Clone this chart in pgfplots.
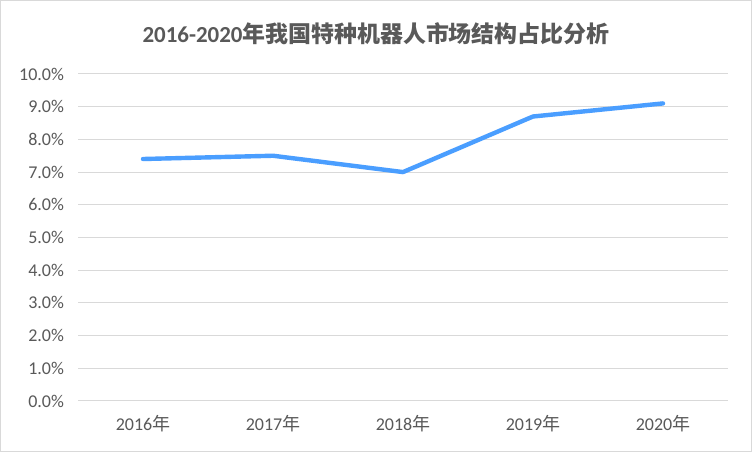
\documentclass[border=0pt]{standalone}
\usepackage{pgfplots}
\pgfplotsset{compat=1.18}
\usepackage{fontspec}
\setmainfont{Carlito}
\newfontfamily\cjk{Noto Sans CJK SC}
\definecolor{linecol}{RGB}{74,158,255}
\definecolor{txt}{RGB}{89,89,89}
\definecolor{gridc}{RGB}{217,217,217}
\begin{document}
\begin{tikzpicture}
\draw[gridc, line width=0.75pt, fill=white] (0.375pt,0.375pt) rectangle (563.625pt,338.625pt);
\node[txt, font=\fontsize{17.2}{20}\selectfont\bfseries] at (282pt,314pt) {2016-2020{\cjk 年我国特种机器人市场结构占比分析}};
\begin{axis}[
  at={(58.5pt,38.25pt)}, anchor=south west,
  scale only axis, width=487.5pt, height=245.25pt,
  xmin=-0.5, xmax=4.5, ymin=0, ymax=10,
  xtick={0,1,2,3,4},
  xticklabels={2016{\cjk 年},2017{\cjk 年},2018{\cjk 年},2019{\cjk 年},2020{\cjk 年}},
  ytick={0,1,...,10},
  yticklabel={\pgfmathprintnumber[fixed,fixed zerofill,precision=1]{\tick}\%},
  /pgf/number format/assume math mode=true,
  axis line style={draw=none},
  major tick length=0pt,
  ymajorgrids, grid style={gridc, line width=0.75pt},
  tick label style={txt, font=\fontsize{13.5}{15}\selectfont},
  yticklabel style={xshift=-7pt},
  xticklabel style={yshift=-7pt},
  clip=false,
]
\addplot[linecol, line width=3.3pt, line cap=round, line join=round] coordinates {
 (0,7.4) (1,7.5) (2,7.0) (3,8.7) (4,9.1)};
\end{axis}
\end{tikzpicture}
\end{document}
